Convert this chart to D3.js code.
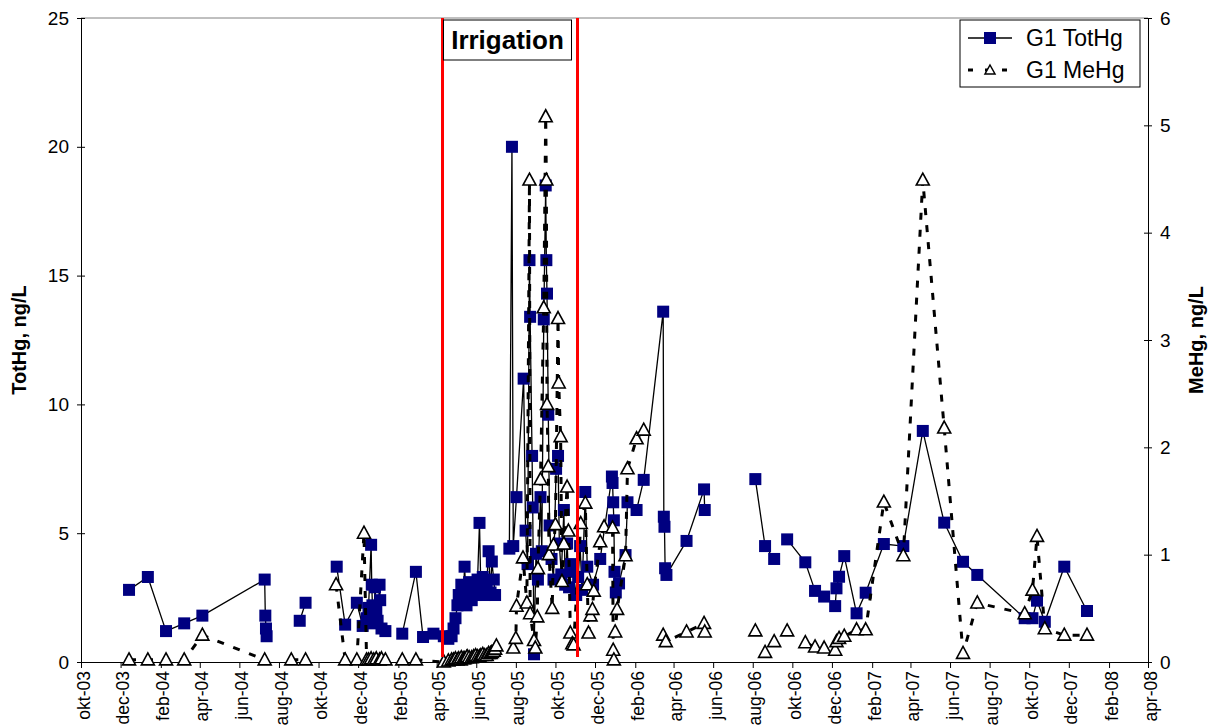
<!DOCTYPE html>
<html>
<head>
<meta charset="utf-8">
<script src="https://cdn.jsdelivr.net/npm/d3@7"></script>
<style>
  body { margin: 0; background: #fff; }
  svg { display: block; font-family: "Liberation Sans", Arial, sans-serif; }
</style>
</head>
<body>
<svg id="chart" width="1215" height="726"></svg>
<script>
// month names used on the x axis
const monthNames = ["jan", "feb", "mar", "apr", "mai", "jun", "jul", "aug", "sep", "okt", "nov", "dec"];
const axisStart = "2003-10-01";
const axisEnd = "2008-04-01";
const totHgTicks = [0, 5, 10, 15, 20, 25];
const meHgTicks = [0, 1, 2, 3, 4, 5, 6];
const irrigationPeriod = ["2005-04-10", "2005-11-04"];
const seriesNames = ["G1 TotHg", "G1 MeHg"];

// G1 TotHg, ng/L (null = no sample, line broken)
const totHgDates = [
  "2003-12-14","2004-01-12","2004-02-09","2004-03-08","2004-04-05","2004-07-10","2004-07-11","2004-07-12","2004-07-13",
  "2004-08-01","2004-09-02","2004-09-11","2004-10-01",
  "2004-10-29","2004-11-11","2004-11-29","2004-12-08","2004-12-14","2004-12-17","2004-12-21","2004-12-22","2004-12-23",
  "2004-12-25","2004-12-27","2004-12-29","2004-12-31","2005-01-03","2005-01-04","2005-01-06","2005-01-12","2005-01-25",
  "2005-02-07","2005-02-28","2005-03-11","2005-03-27","2005-04-12","2005-04-19","2005-04-24","2005-04-27","2005-04-30",
  "2005-05-03","2005-05-05","2005-05-08","2005-05-09","2005-05-12","2005-05-14","2005-05-17","2005-05-18","2005-05-21",
  "2005-05-25","2005-05-28","2005-05-31","2005-06-03","2005-06-06","2005-06-08","2005-06-11","2005-06-14","2005-06-17",
  "2005-06-20","2005-06-23","2005-06-25","2005-06-28","2005-06-30","2005-07-10",
  "2005-07-22","2005-07-26","2005-07-28","2005-08-02","2005-08-13","2005-08-16","2005-08-19","2005-08-22","2005-08-23",
  "2005-08-26","2005-08-27","2005-08-29","2005-09-01","2005-09-04","2005-09-08","2005-09-10","2005-09-13","2005-09-16",
  "2005-09-17","2005-09-18","2005-09-20","2005-09-22","2005-09-25","2005-09-28","2005-10-02","2005-10-05","2005-10-07",
  "2005-10-10","2005-10-14","2005-10-16","2005-10-19","2005-10-22","2005-10-25","2005-10-28","2005-11-02","2005-11-05",
  "2005-11-08","2005-11-11","2005-11-16","2005-11-19","2005-11-28","2005-12-09","2005-12-27","2005-12-28","2005-12-29",
  "2005-12-30","2005-12-31","2006-01-02","2006-01-07","2006-01-17","2006-01-20","2006-02-03","2006-02-14","2006-03-16",
  "2006-03-17","2006-03-18","2006-03-19","2006-03-21","2006-04-21","2006-05-18","2006-05-19","2006-07-01",
  "2006-08-05","2006-08-20","2006-09-03","2006-09-13",
  "2006-09-23","2006-10-21","2006-11-05","2006-11-19","2006-12-06","2006-12-08","2006-12-12","2006-12-20","2007-01-08",
  "2007-01-22","2007-02-19","2007-03-21","2007-04-20","2007-05-23","2007-06-21","2007-07-13","2007-09-24","2007-10-06",
  "2007-10-13","2007-10-25","2007-11-24","2007-12-29"
];
const totHgValues = [
  2.8, 3.3, 1.2, 1.5, 1.8, 3.2, 1.8, 1.3, 1.0,
  null, 1.6, 2.3, null,
  3.7, 1.45, 2.3, 1.4, 1.7, 2.1, 4.55, 3.0, 2.2,
  1.5, 2.9, 2.0, 1.6, 3.0, 2.4, 1.3, 1.2, null,
  1.1, 3.5, 0.97, 1.1, 1.0, 0.9, 1.0, 1.3, 1.7,
  2.2, 2.6, 2.3, 3.0, 2.5, 3.7, 2.2, 2.8, 3.1,
  2.4, 3.0, 2.6, 3.2, 5.4, 2.9, 3.3, 2.6, 3.0,
  4.3, 2.7, 3.9, 3.2, 2.6, null,
  4.4, 20.0, 4.5, 6.4, 11.0, 5.1, 3.8, 15.6, 13.4,
  8.0, 6.0, 0.3, 4.2, 3.2, 6.4, 4.3, 13.3, 18.5,
  15.6, 14.3, 9.6, 5.3, 4.0, 3.2, 7.5, 8.0, 4.6,
  3.4, 5.9, 3.0, 4.6, 2.9, 3.8, 3.5, 2.6, 3.3,
  4.5, 2.8, 6.6, 3.7, 3.0, 4.0, 7.2, 6.95, 6.2,
  5.5, 3.5, 2.7, 3.05, 4.15, 6.2, 5.9, 7.07, 13.6,
  5.64, 5.25, 3.64, 3.38, 4.7, 6.7, 5.9, null,
  7.1, 4.5, 4.0, null,
  4.76, 3.87, 2.76, 2.54, 2.17, 2.86, 3.31, 4.11, 1.89,
  2.69, 4.58, 4.5, 8.97, 5.41, 3.89, 3.38, 1.7, 1.7,
  2.38, 1.56, 3.7, 1.98
];

// G1 MeHg, ng/L (null = no sample, line broken)
const meHgDates = [
  "2003-12-14","2004-01-12","2004-02-09","2004-03-08","2004-04-05","2004-07-10","2004-08-01","2004-08-20","2004-09-11",
  "2004-10-10","2004-10-28","2004-11-11","2004-11-29","2004-12-10","2004-12-14","2004-12-17","2004-12-21","2004-12-25",
  "2004-12-29","2005-01-03","2005-01-06","2005-01-12","2005-02-07","2005-02-28","2005-04-12","2005-04-19","2005-04-24",
  "2005-04-27","2005-04-30","2005-05-03","2005-05-05","2005-05-08","2005-05-09","2005-05-12","2005-05-14","2005-05-17",
  "2005-05-18","2005-05-21","2005-05-25","2005-05-28","2005-05-31","2005-06-03","2005-06-06","2005-06-08","2005-06-11",
  "2005-06-14","2005-06-17","2005-06-20","2005-06-23","2005-06-25","2005-06-28","2005-06-30","2005-07-02","2005-07-15",
  "2005-07-28","2005-08-01","2005-08-02","2005-08-12","2005-08-18","2005-08-22","2005-08-23","2005-08-29","2005-08-31",
  "2005-09-03","2005-09-04","2005-09-08","2005-09-13","2005-09-16","2005-09-17","2005-09-18","2005-09-20","2005-09-21",
  "2005-09-26","2005-09-28","2005-10-01","2005-10-05","2005-10-06","2005-10-09","2005-10-11","2005-10-14","2005-10-19",
  "2005-10-21","2005-10-24","2005-10-27","2005-10-29","2005-11-09","2005-11-16","2005-11-19","2005-11-21","2005-11-24",
  "2005-11-27","2005-11-29","2005-12-09","2005-12-15","2005-12-28","2005-12-29","2005-12-30","2006-01-01","2006-01-04",
  "2006-01-17","2006-01-20","2006-02-03","2006-02-14","2006-03-01","2006-03-16","2006-03-20","2006-04-21","2006-05-18",
  "2006-05-19","2006-07-01","2006-08-05","2006-08-12","2006-08-20","2006-08-27","2006-09-03","2006-09-13","2006-09-23",
  "2006-10-05","2006-10-21","2006-11-05","2006-11-19","2006-12-06","2006-12-08","2006-12-12","2006-12-20","2007-01-08",
  "2007-01-22","2007-02-19","2007-03-21","2007-04-20","2007-05-23","2007-06-21","2007-07-13","2007-09-24","2007-10-06",
  "2007-10-13","2007-10-25","2007-11-24","2007-12-29"
];
const meHgValues = [
  0.02, 0.02, 0.02, 0.02, 0.25, 0.02, null, 0.02, 0.02,
  null, 0.72, 0.02, 0.02, 1.2, 0.02, 0.02, 0.03, 0.02,
  0.03, 0.02, 0.03, 0.02, 0.02, 0.02, 0.0, 0.01, 0.02,
  0.02, 0.03, 0.02, 0.03, 0.02, 0.04, 0.03, 0.03, 0.04,
  0.05, 0.04, 0.04, 0.05, 0.06, 0.05, 0.05, 0.06, 0.07,
  0.06, 0.06, 0.08, 0.08, 0.09, 0.1, 0.12, 0.15, null,
  0.13, 0.22, 0.52, 0.97, 0.55, 4.49, 0.45, 0.2, 0.13,
  0.42, 0.87, 1.7, 3.3, 5.08, 4.49, 2.4, 1.82, 1.0,
  0.5, 1.09, 1.28, 3.2, 2.6, 2.1, 0.75, 1.1, 1.63,
  1.22, 0.27, 0.17, 0.16, 1.29, 1.48, 0.72, 0.27, 0.43,
  0.49, 0.66, 1.12, 1.26, 1.25, 0.11, 0.02, 0.28, 0.49,
  0.99, 1.8, 2.08, 2.16, null, 0.25, 0.19, 0.28, 0.36,
  0.28, null, 0.29, null, 0.09, null, 0.19, null, 0.29,
  null, 0.18, 0.14, 0.13, 0.11, 0.19, 0.22, 0.24, 0.3,
  0.3, 1.49, 0.99, 4.49, 2.18, 0.08, 0.55, 0.45, 0.67,
  1.17, 0.31, 0.25, 0.25
];

const parseDate = d3.timeParse("%Y-%m-%d");

const margin = {top: 18, right: 67, bottom: 64, left: 81};
const svg = d3.select("#chart");
const W = +svg.attr("width"), H = +svg.attr("height");
const width = W - margin.left - margin.right;
const height = H - margin.top - margin.bottom;

const totHg = totHgDates.map((d, i) => ({date: parseDate(d), value: totHgValues[i]}));
const meHg = meHgDates.map((d, i) => ({date: parseDate(d), value: meHgValues[i]}));

const xScale = d3.scaleTime()
    .domain([parseDate(axisStart), parseDate(axisEnd)])
    .range([0, width]);
const yLeft = d3.scaleLinear().domain([0, 25]).range([height, 0]);
const yRight = d3.scaleLinear().domain([0, 6]).range([height, 0]);

const chart = svg.append("g")
    .attr("transform", `translate(${margin.left},${margin.top})`);

// top border of plot area
chart.append("line")
    .attr("x1", 0).attr("x2", width).attr("y1", 0).attr("y2", 0)
    .attr("stroke", "#808080").attr("stroke-width", 1);

// x axis, tick every second month
const tickDates = d3.timeMonth.range(parseDate(axisStart), d3.timeDay.offset(parseDate(axisEnd), 1), 2);
const fmtTick = d => monthNames[d.getMonth()] + "-" + d3.timeFormat("%y")(d);

const xAxisG = chart.append("g").attr("transform", `translate(0,${height})`)
    .call(d3.axisBottom(xScale).tickValues(tickDates).tickSize(6).tickSizeOuter(0).tickFormat(fmtTick));
xAxisG.select(".domain").attr("stroke", "#000");
xAxisG.selectAll(".tick line").attr("stroke", "#000");
xAxisG.selectAll(".tick text")
    .attr("transform", "translate(2,9) rotate(-90)")
    .attr("x", 0).attr("y", 0).attr("dy", "0.35em")
    .style("text-anchor", "end")
    .attr("font-size", 17.5).attr("fill", "#000")
    .attr("font-family", "Liberation Sans, Arial, sans-serif");

// left axis
const yLeftG = chart.append("g")
    .call(d3.axisLeft(yLeft).tickValues(totHgTicks).tickSize(4).tickSizeOuter(0).tickPadding(8));
yLeftG.selectAll(".tick line").attr("x2", 4).attr("x1", -4).attr("stroke", "#000");
yLeftG.selectAll(".tick text").attr("font-size", 19).attr("fill", "#000")
    .attr("font-family", "Liberation Sans, Arial, sans-serif");
yLeftG.select(".domain").attr("stroke", "#000");

// right axis
const yRightG = chart.append("g").attr("transform", `translate(${width},0)`)
    .call(d3.axisRight(yRight).tickValues(meHgTicks).tickFormat(d3.format("d"))
      .tickSize(4).tickSizeOuter(0).tickPadding(8));
yRightG.selectAll(".tick line").attr("x2", 4).attr("x1", -4).attr("stroke", "#000");
yRightG.selectAll(".tick text").attr("font-size", 19).attr("fill", "#000")
    .attr("font-family", "Liberation Sans, Arial, sans-serif");
yRightG.select(".domain").attr("stroke", "#000");

// axis titles
svg.append("text")
    .attr("transform", `translate(26,${margin.top + height / 2}) rotate(-90)`)
    .attr("text-anchor", "middle")
    .attr("font-size", 20).attr("font-weight", "bold")
    .text("TotHg, ng/L");
svg.append("text")
    .attr("transform", `translate(1203,${margin.top + height / 2}) rotate(-90)`)
    .attr("text-anchor", "middle")
    .attr("font-size", 20).attr("font-weight", "bold")
    .text("MeHg, ng/L");

// series
const totLine = d3.line()
    .defined(d => d.value != null)
    .x(d => xScale(d.date)).y(d => yLeft(d.value));
const meLine = d3.line()
    .defined(d => d.value != null)
    .x(d => xScale(d.date)).y(d => yRight(d.value));

const triangle = "M0,-7L6.5,5L-6.5,5Z";
const sq = 12;

chart.append("path").datum(totHg)
    .attr("d", totLine)
    .attr("fill", "none").attr("stroke", "#000").attr("stroke-width", 1.3);

chart.selectAll(".tot").data(totHg.filter(d => d.value != null))
    .join("rect")
    .attr("class", "tot")
    .attr("x", d => xScale(d.date) - sq / 2)
    .attr("y", d => yLeft(d.value) - sq / 2)
    .attr("width", sq).attr("height", sq)
    .attr("fill", "#000080");

chart.append("path").datum(meHg)
    .attr("d", meLine)
    .attr("fill", "none").attr("stroke", "#000").attr("stroke-width", 3)
    .attr("stroke-dasharray", "7,10");

chart.selectAll(".me").data(meHg.filter(d => d.value != null))
    .join("path")
    .attr("class", "me")
    .attr("d", triangle)
    .attr("transform", d => `translate(${xScale(d.date)},${yRight(d.value)})`)
    .attr("fill", "#fff").attr("stroke", "#000").attr("stroke-width", 1.6);

// irrigation period
chart.selectAll(".irr").data(irrigationPeriod)
    .join("line")
    .attr("class", "irr")
    .attr("x1", d => xScale(parseDate(d))).attr("x2", d => xScale(parseDate(d)))
    .attr("y1", 0).attr("y2", height - 5)
    .attr("stroke", "#ff0000").attr("stroke-width", 3);

const irrX0 = xScale(parseDate(irrigationPeriod[0]));
const irrX1 = xScale(parseDate(irrigationPeriod[1]));
const boxW = irrX1 - irrX0 - 7;
chart.append("rect")
    .attr("x", irrX0 + 1).attr("y", 2)
    .attr("width", boxW).attr("height", 40)
    .attr("fill", "#fff").attr("stroke", "#000").attr("stroke-width", 1);
chart.append("text")
    .attr("x", irrX0 + 1 + boxW / 2).attr("y", 31)
    .attr("text-anchor", "middle")
    .attr("font-size", 26).attr("font-weight", "bold")
    .text("Irrigation");

// legend
const legend = svg.append("g").attr("transform", "translate(960,20)");
legend.append("rect")
    .attr("width", 180).attr("height", 67)
    .attr("fill", "#fff").attr("stroke", "#000").attr("stroke-width", 1);
const rows = legend.selectAll(".row").data(seriesNames).join("g")
    .attr("class", "row")
    .attr("transform", (d, i) => `translate(0,${18 + i * 32})`);
rows.append("line")
    .attr("x1", 8).attr("x2", 52).attr("y1", 0).attr("y2", 0)
    .attr("stroke", "#000")
    .attr("stroke-width", (d, i) => i === 0 ? 1.3 : 3)
    .attr("stroke-dasharray", (d, i) => i === 0 ? null : "5,12");
rows.filter((d, i) => i === 0).append("rect")
    .attr("x", 30 - sq / 2).attr("y", -sq / 2).attr("width", sq).attr("height", sq)
    .attr("fill", "#000080");
rows.filter((d, i) => i === 1).append("path")
    .attr("d", "M0,-5L5,4L-5,4Z")
    .attr("transform", "translate(30,0)")
    .attr("fill", "#fff").attr("stroke", "#000").attr("stroke-width", 1.5);
rows.append("text")
    .attr("x", 66).attr("y", 0).attr("dy", "0.35em")
    .attr("font-size", 23)
    .text(d => d);
</script>
</body>
</html>
